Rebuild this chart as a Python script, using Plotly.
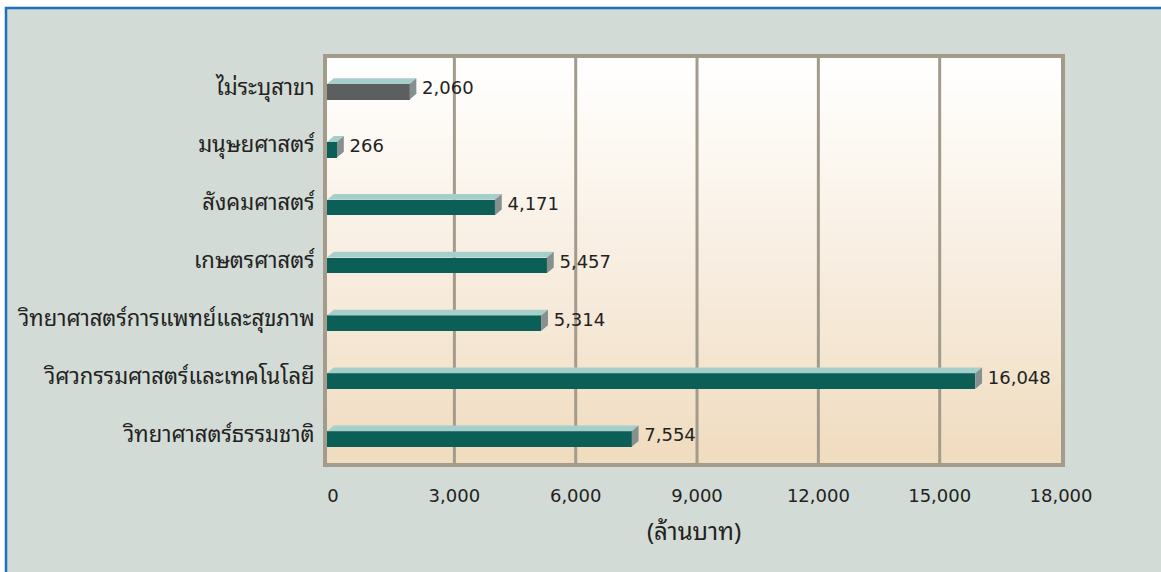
import plotly.graph_objects as go

# ---- data (top to bottom as in the chart) ----
categories = [
    "ไม่ระบุสาขา",
    "มนุษยศาสตร์",
    "สังคมศาสตร์",
    "เกษตรศาสตร์",
    "วิทยาศาสตร์การแพทย์และสุขภาพ",
    "วิศวกรรมศาสตร์และเทคโนโลยี",
    "วิทยาศาสตร์ธรรมชาติ",
]
values = [2060, 266, 4171, 5457, 5314, 16048, 7554]
x_ticks = [0, 3000, 6000, 9000, 12000, 15000, 18000]
x_title = "(ล้านบาท)"

# ---- styling constants ----
W, H = 1161, 572
ML, MR, MT, MB = 327, 100, 58, 109
X_MIN, X_MAX = -150, 18000
DEPTH_X = 170      # 3D depth along x (data units)
DEPTH_Y = 0.10     # 3D depth along y (category units)
FACE_LO = -0.22    # front face bottom, relative to category centre
FACE_HI = 0.05     # front face top
LABEL_DY = -0.05
FRONT_TEAL = "#0b5f56"
FRONT_GREY = "#5b5f5f"
TOP_COL = "#a6cfcb"
SIDE_COL = "#86908f"
FRAME = "#a39b8c"
PAGE_BG = "#d2dbd5"
FONT_THAI = "'Noto Sans Thai Looped', 'IBM Plex Sans Thai Looped', Loma, Tahoma, sans-serif"
FONT_NUM = "'DejaVu Sans', Verdana, sans-serif"

n = len(categories)
pos = [n - 1 - i for i in range(n)]  # top item gets highest position
front_colors = [FRONT_GREY if c == "ไม่ระบุสาขา" else FRONT_TEAL for c in categories]

fig = go.Figure()

# front faces
fig.add_trace(go.Bar(
    orientation="h",
    y=pos,
    x=[v - DEPTH_X - X_MIN for v in values],
    base=X_MIN,
    width=FACE_HI - FACE_LO,
    offset=FACE_LO,
    marker=dict(color=front_colors, line=dict(width=0)),
    hoverinfo="skip",
    showlegend=False,
))

# top faces and side faces (3D look), derived from the data values
top_x, top_y, side_x, side_y = [], [], [], []
for p, v in zip(pos, values):
    xf = v - DEPTH_X
    lo, hi = p + FACE_LO, p + FACE_HI
    top_x += [X_MIN, xf, v, X_MIN + DEPTH_X, X_MIN, None]
    top_y += [hi, hi, hi + DEPTH_Y, hi + DEPTH_Y, hi, None]
    side_x += [xf, v, v, xf, xf, None]
    side_y += [lo, lo + DEPTH_Y, hi + DEPTH_Y, hi, lo, None]

fig.add_trace(go.Scatter(x=top_x, y=top_y, mode="lines", fill="toself",
                         fillcolor=TOP_COL, line=dict(width=0, color=TOP_COL),
                         hoverinfo="skip", showlegend=False))
fig.add_trace(go.Scatter(x=side_x, y=side_y, mode="lines", fill="toself",
                         fillcolor=SIDE_COL, line=dict(width=0, color=SIDE_COL),
                         hoverinfo="skip", showlegend=False))

# value labels
fig.add_trace(go.Scatter(
    x=values, y=[p + LABEL_DY for p in pos], mode="text",
    text=[" " + f"{v:,}" for v in values],
    textposition="middle right",
    textfont=dict(family=FONT_NUM, size=18, color="#222222"),
    hoverinfo="skip", showlegend=False, cliponaxis=False,
))

# background shapes: page panel with blue frame + vertical gradient + gridlines
shapes = []
pw, ph = W - ML - MR, H - MT - MB
def px_to_paper_x(px):
    return (px - ML) / pw
def px_to_paper_y(py):
    return (H - MB - py) / ph
shapes.append(dict(type="rect", xref="paper", yref="paper", layer="below",
                   x0=px_to_paper_x(6), x1=px_to_paper_x(W + 20),
                   y0=px_to_paper_y(H + 20), y1=px_to_paper_y(8),
                   fillcolor=PAGE_BG, line=dict(color="#1f6fbf", width=2.5)))

def lerp(c1, c2, t):
    return tuple(round(a + (b - a) * t) for a, b in zip(c1, c2))
stops = [(0.0, (240, 220, 190)), (0.45, (247, 236, 222)), (0.8, (253, 249, 243)), (1.0, (255, 255, 255))]
N = 60
for k in range(N):
    t = (k + 0.5) / N
    for j in range(len(stops) - 1):
        if stops[j][0] <= t <= stops[j + 1][0]:
            tt = (t - stops[j][0]) / (stops[j + 1][0] - stops[j][0])
            col = lerp(stops[j][1], stops[j + 1][1], tt)
            break
    shapes.append(dict(type="rect", xref="x domain", yref="y domain", layer="below",
                       x0=0, x1=1, y0=k / N, y1=(k + 1) / N + 0.002,
                       fillcolor="rgb(%d,%d,%d)" % col, line=dict(width=0)))
for t in x_ticks[1:-1]:
    shapes.append(dict(type="line", xref="x", yref="y domain", layer="below",
                       x0=t, x1=t, y0=0, y1=1, line=dict(color=FRAME, width=3)))

fig.update_layout(
    width=W, height=H,
    margin=dict(l=ML, r=MR, t=MT, b=MB),
    paper_bgcolor="white",
    plot_bgcolor="rgba(0,0,0,0)",
    shapes=shapes,
    bargap=0,
    xaxis=dict(
        range=[X_MIN, X_MAX],
        tickvals=x_ticks,
        ticktext=[f"{t:,}" for t in x_ticks],
        tickfont=dict(family=FONT_NUM, size=18, color="#222222"),
        ticklabelstandoff=13,
        showgrid=False,
        zeroline=False,
        showline=True, linecolor=FRAME, linewidth=4, mirror=True,
        title=dict(text=x_title, font=dict(family=FONT_THAI, size=24, color="#222222"), standoff=20),
        fixedrange=True,
    ),
    yaxis=dict(
        range=[-0.5, n - 0.5],
        tickvals=pos,
        ticktext=categories,
        tickfont=dict(family=FONT_THAI, size=22, color="#222222"),
        ticklabelstandoff=4,
        showgrid=False, zeroline=False,
        showline=True, linecolor=FRAME, linewidth=4, mirror=True,
        fixedrange=True,
    ),
)

fig.write_html("out.html")
